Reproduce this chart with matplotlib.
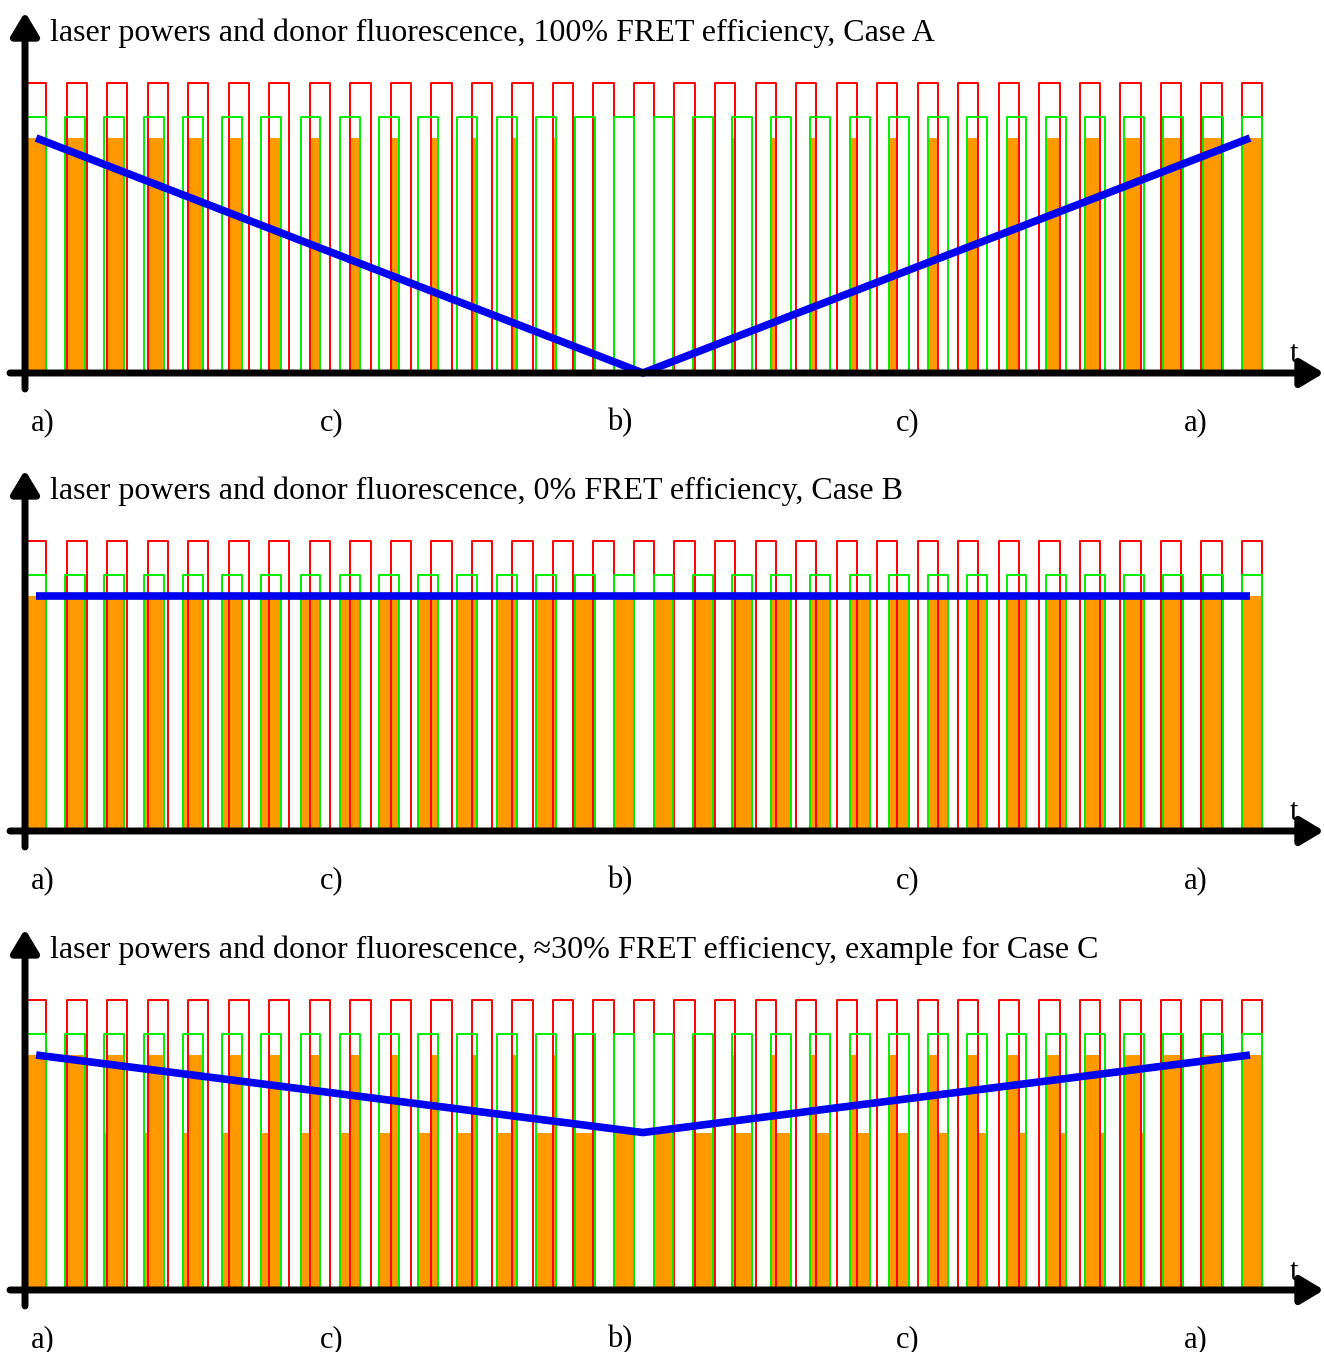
import numpy as np
import matplotlib
matplotlib.use("Agg")
import matplotlib.pyplot as plt

# pulse trains (time in units of the red period)
n_red = 31
red_period = 1.0
red_width = 0.5
n_green = 32
green_period = 30 / 31
green_width = 0.49

# levels (donor fluorescence without FRET = 1)
red_power = 1.234
green_power = 1.09
donor_level = 1.0

titles = [
    "laser powers and donor fluorescence, 100% FRET efficiency, Case A",
    "laser powers and donor fluorescence, 0% FRET efficiency, Case B",
    "laser powers and donor fluorescence, \u224830% FRET efficiency, example for Case C",
]
fret_eff = [1.0, 0.0, 0.33]

# mean donor signal: start, middle (anti-phase), end
blue_t = [0.25, 15.22, 30.2]

pos_labels = ["a)", "c)", "b)", "c)", "a)"]
pos_t = [0.42, 7.55, 14.66, 21.76, 28.87]

red_starts = np.arange(n_red) * red_period
green_starts = np.arange(n_green) * green_period


def wave(starts, width, level, t0, t1):
    xs, ys = [t0], [0]
    for s in starts:
        xs += [s, s, s + width, s + width]
        ys += [0, level, level, 0]
    xs.append(t1)
    ys.append(0)
    return xs, ys


def is_on(t, starts, width):
    return np.any((t >= starts) & (t < starts + width))


def donor_segments(eff):
    edges = np.unique(np.concatenate([red_starts, red_starts + red_width,
                                      green_starts, green_starts + green_width]))
    segs = []
    for a, b in zip(edges[:-1], edges[1:]):
        m = (a + b) / 2
        if not is_on(m, green_starts, green_width):
            continue
        if is_on(m, red_starts, red_width):
            h = donor_level
        else:
            h = donor_level * (1 - eff)
        if h > 0:
            segs.append((a, b - a, h))
    return segs


W, H = 1324, 1352
fig = plt.figure(figsize=(W / 100, H / 100), dpi=100)

px_x = 40.53          # pixels per time unit
x0_px = 26
px_y = 235            # pixels per level unit
panel_tops = [0, 458, 917]
base_off = 373        # baseline below panel top
ax_h = 440

t_lo = -x0_px / px_x
t_hi = (W - x0_px) / px_x
y_lo = -(ax_h - base_off) / px_y
y_hi = base_off / px_y

serif = ["Liberation Serif", "DejaVu Serif"]
arrow = dict(arrowstyle="-|>,head_length=0.7,head_width=0.42", lw=5, color="k",
             mutation_scale=20, shrinkA=0, shrinkB=0)

for i in range(3):
    top = panel_tops[i]
    ax = fig.add_axes([0, 1 - (top + ax_h) / H, 1, ax_h / H])
    ax.set_xlim(t_lo, t_hi)
    ax.set_ylim(y_lo, y_hi)
    ax.axis("off")

    for a, w, h in donor_segments(fret_eff[i]):
        ax.bar(a, h, width=w, align="edge", color="#ff9900", lw=0, zorder=1)

    xs, ys = wave(red_starts, red_width, red_power, t_lo + 0.6, t_hi - 1.3)
    ax.plot(xs, ys, color="#ff0000", lw=1.4, zorder=2)
    xs, ys = wave(green_starts, green_width, green_power, t_lo + 0.6, t_hi - 1.3)
    ax.plot(xs, ys, color="#00ee00", lw=1.4, zorder=3)

    mid = donor_level * (1 - fret_eff[i])
    ax.plot(blue_t, [donor_level, mid, donor_level], color="#0000f0", lw=5.5,
            solid_capstyle="butt", zorder=5)

    # axes with arrows
    ax.annotate("", xy=(t_hi, 0), xytext=((10 - x0_px) / px_x, 0),
                arrowprops=arrow, zorder=6)
    ax.annotate("", xy=(-1 / px_x, 361 / px_y), xytext=(-1 / px_x, -16 / px_y),
                arrowprops=arrow, zorder=6)
    ax.text((1294 - x0_px) / px_x, 18 / px_y, "t", family=serif, fontsize=22,
            ha="center", va="center", zorder=7)

    ax.text((50 - x0_px) / px_x, 340 / px_y, titles[i], family=serif,
            fontsize=23, ha="left", va="center")
    for lab, t in zip(pos_labels, pos_t):
        ax.text(t, -50 / px_y, lab, family=serif, fontsize=22,
                ha="center", va="center", clip_on=False)

fig.savefig("out.png", dpi=100)
